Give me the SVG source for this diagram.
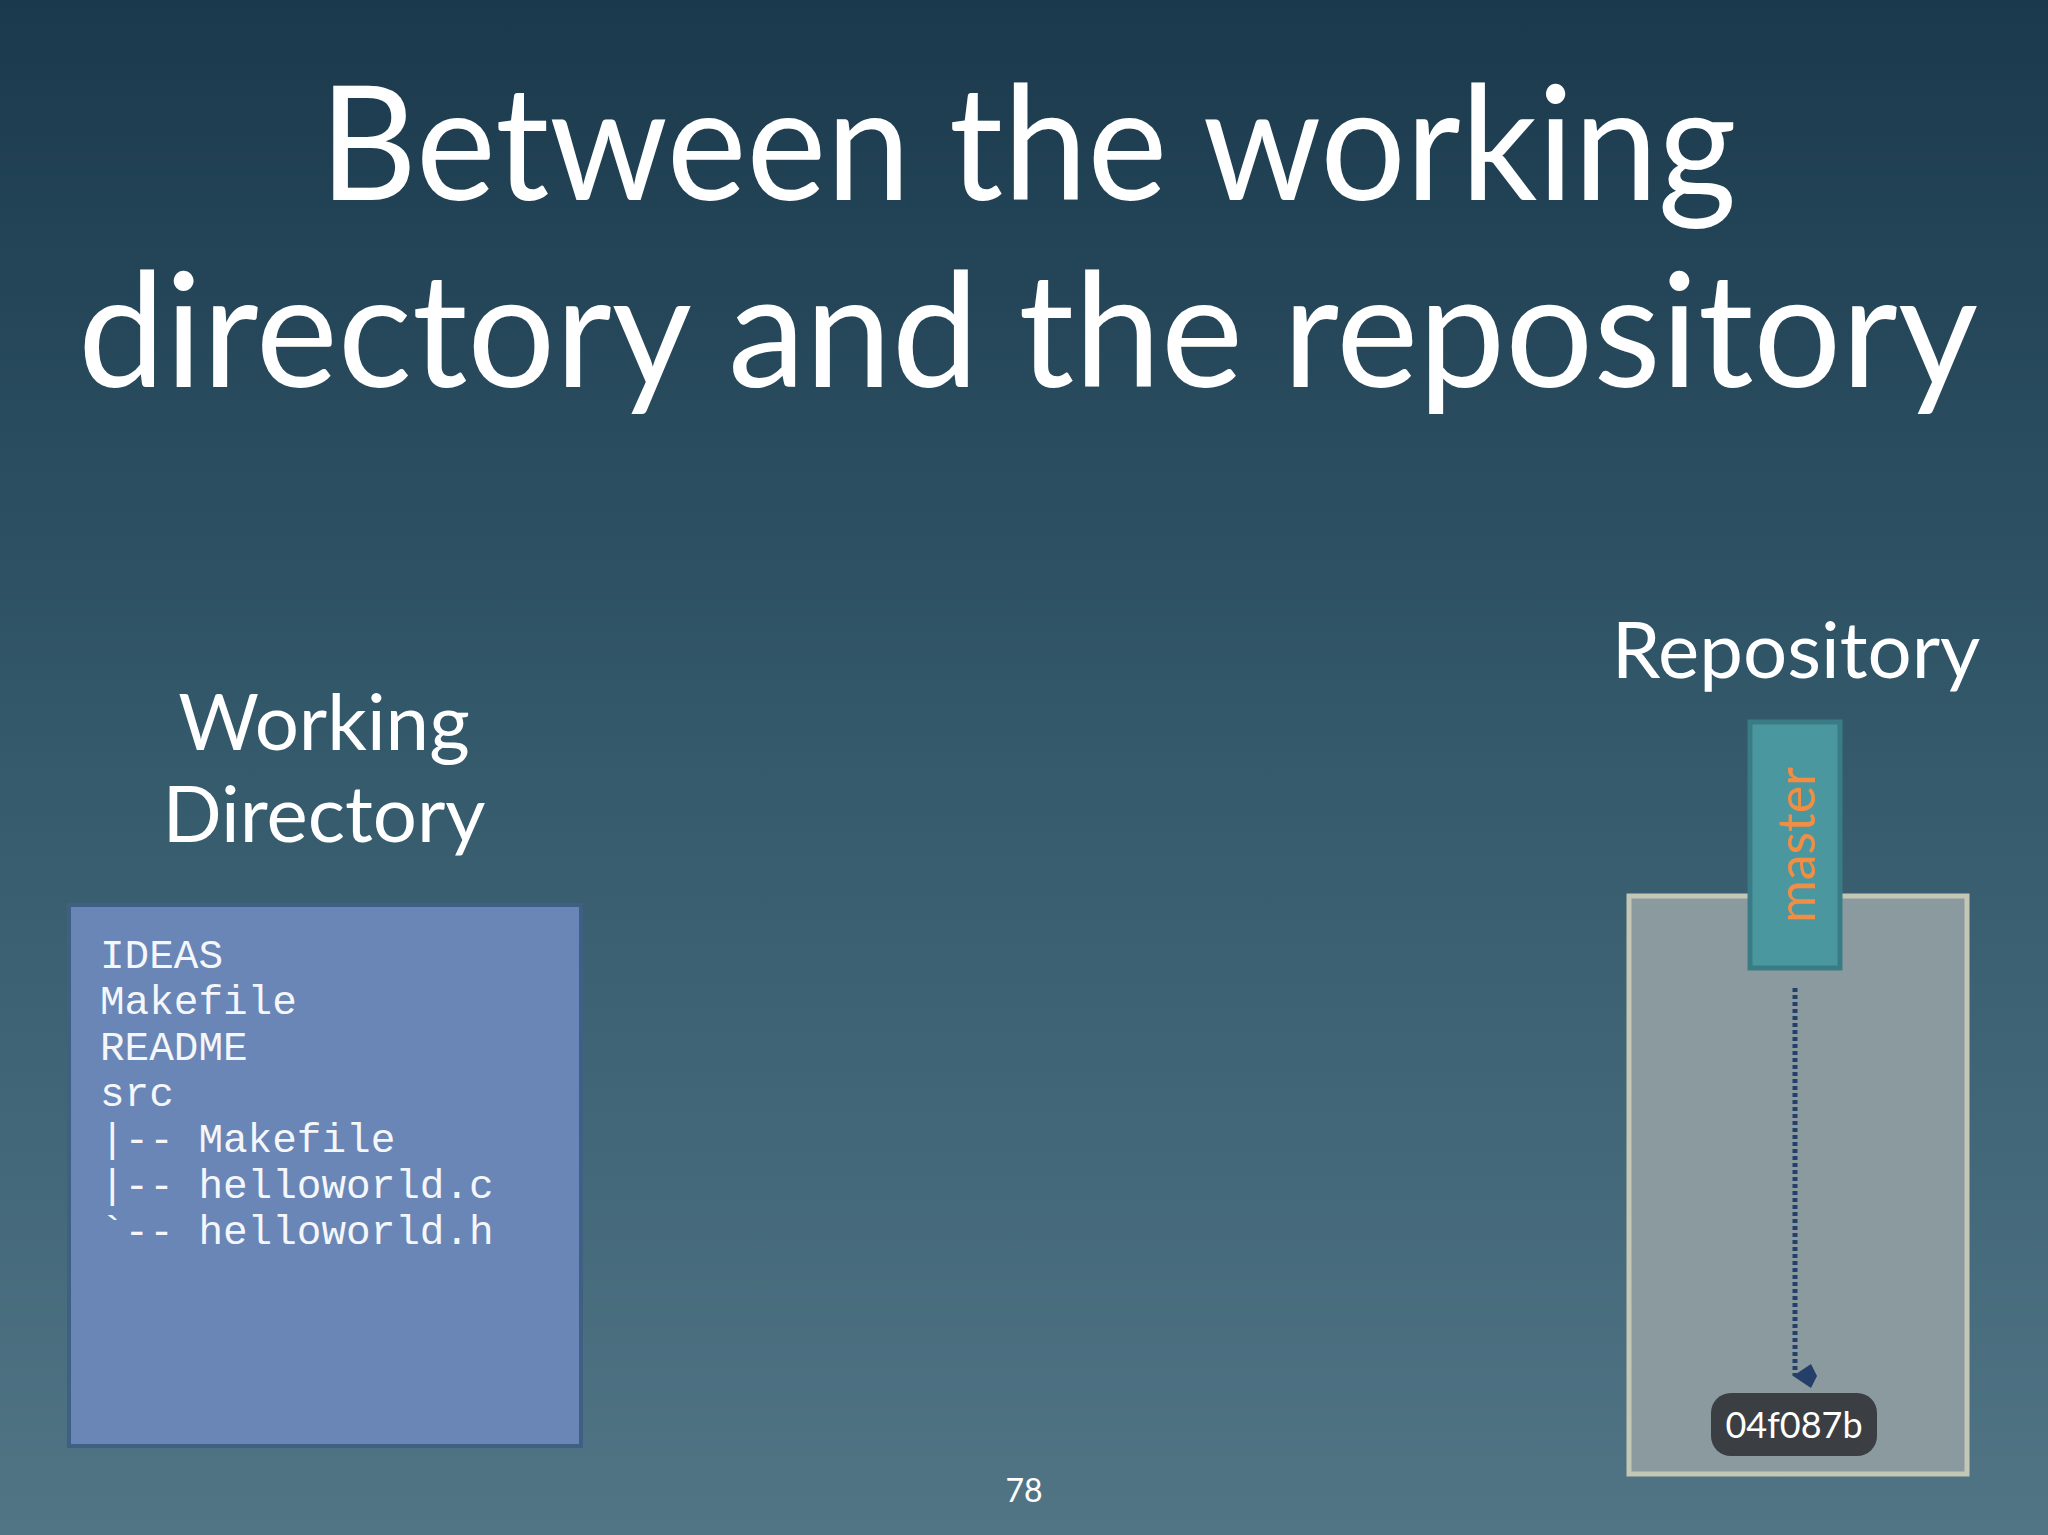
<svg xmlns="http://www.w3.org/2000/svg" width="2048" height="1535" viewBox="0 0 2048 1535">
<defs>
<linearGradient id="bg" x1="0" y1="0" x2="0" y2="1"><stop offset="0" stop-color="#1b394c"/><stop offset="0.5" stop-color="#345a6c"/><stop offset="1" stop-color="#517585"/></linearGradient>
<marker id="ah" markerWidth="24" markerHeight="24" refX="12" refY="22" orient="auto-start-reverse" markerUnits="userSpaceOnUse" viewBox="0 0 24 24"><path d="M0,6 L12,0 L24,6 L12,24 Z" fill="#24406a"/></marker>
<style>
.t{font-family:Lato,"Open Sans","Liberation Sans",sans-serif;fill:#fff;text-anchor:middle}
.m{font-family:"Liberation Mono",monospace;font-size:41px;fill:#f4f6fa}
</style>
</defs>
<rect width="2048" height="1535" fill="url(#bg)"/>
<g id="title">
<text class="t" x="1028" y="200" font-size="160" textLength="1417" lengthAdjust="spacingAndGlyphs">Between the working</text>
<text class="t" x="1028" y="387" font-size="160" textLength="1900" lengthAdjust="spacingAndGlyphs">directory and the repository</text>
</g>
<g id="working">
<text class="t" x="324" y="750" font-size="78">Working</text>
<text class="t" x="324" y="842" font-size="78">Directory</text>
<rect x="69" y="905" width="512" height="541" fill="#6986b6" stroke="#3f5f85" stroke-width="4"/>
<text class="m" x="100" y="968">IDEAS</text>
<text class="m" x="100" y="1014">Makefile</text>
<text class="m" x="100" y="1060">README</text>
<text class="m" x="100" y="1106">src</text>
<text class="m" x="100" y="1152">|-- Makefile</text>
<text class="m" x="100" y="1198">|-- helloworld.c</text>
<text class="m" x="100" y="1244">`-- helloworld.h</text>
</g>
<g id="repository">
<text class="t" x="1796" y="678" font-size="78">Repository</text>
<rect x="1629" y="896" width="338" height="578" fill="#8a9a9f" stroke="#c4c7b6" stroke-width="5"/>
</g>
<g id="master">
<rect x="1750" y="722" width="90" height="246" fill="#4b979f" stroke="#3a7c86" stroke-width="5"/>
<text transform="translate(1815,845) rotate(-90)" class="t" font-size="52" style="fill:#f08e45">master</text>
</g>
<g id="commit">
<rect x="1711" y="1393" width="166" height="63" rx="20" fill="#3b3e42"/>
<text class="t" x="1794" y="1438" font-size="36" font-family="Roboto,sans-serif">04f087b</text>
</g>
<g id="connectors">
<line x1="1795" y1="988" x2="1795" y2="1376" stroke="#24406a" stroke-width="5" stroke-dasharray="4,3" marker-end="url(#ah)"/>
</g>
<text class="t" x="1024" y="1502" font-size="32">78</text>
</svg>
